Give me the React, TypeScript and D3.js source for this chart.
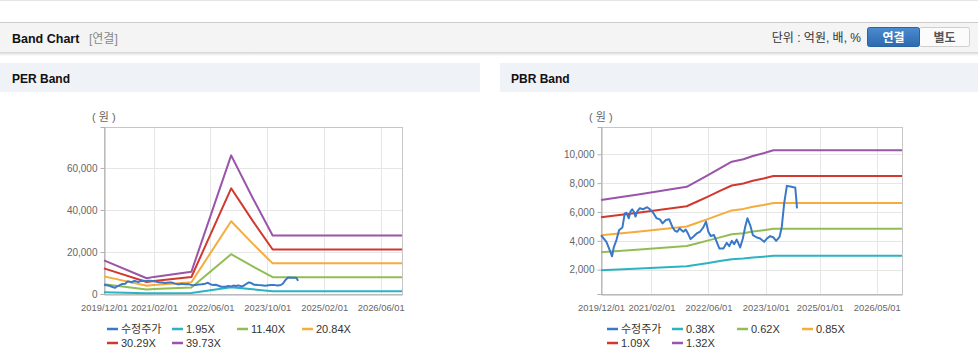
import { useEffect, useRef } from "react";
import * as d3 from "d3";

// 수정주가 - same price series is shown on both bands
const priceDates = [
  "2019-12-01", "2020-01-16", "2020-02-13", "2020-03-04", "2020-03-18", "2020-04-10", "2020-05-03",
  "2020-05-31", "2020-06-20", "2020-07-04", "2020-07-24", "2020-08-07", "2020-08-22", "2020-09-05",
  "2020-09-19", "2020-10-03", "2020-10-26", "2020-11-23", "2020-12-27", "2021-01-19", "2021-02-16",
  "2021-03-17", "2021-04-14", "2021-05-07", "2021-06-04", "2021-07-03", "2021-07-31", "2021-08-20",
  "2021-09-09", "2021-09-29", "2021-10-30", "2021-11-20", "2021-12-11", "2021-12-31", "2022-01-23",
  "2022-02-21", "2022-03-21", "2022-04-18", "2022-05-11", "2022-05-31", "2022-06-20", "2022-07-18",
  "2022-08-10", "2022-09-01", "2022-10-06", "2022-11-03", "2022-11-25", "2022-12-16", "2023-01-05",
  "2023-01-27", "2023-02-25", "2023-03-20", "2023-04-09", "2023-04-28", "2023-05-21", "2023-06-13",
  "2023-07-17", "2023-08-14", "2023-09-17", "2023-10-10", "2023-11-07", "2023-12-06", "2023-12-28",
  "2024-01-26", "2024-02-14", "2024-03-05", "2024-03-28", "2024-04-25", "2024-05-24", "2024-06-07",
  "2024-06-15", "2024-06-22",
];
const priceValues = [
  4400, 3930, 3350, 2930, 3540, 4050, 4750,
  4930, 5900, 5950, 5560, 6020, 6190, 6020,
  5680, 6020, 6260, 6190, 6330, 6190, 5950,
  5560, 5490, 5210, 5440, 5490, 4930, 4700,
  4630, 4860, 4630, 4790, 4470, 4120, 4280,
  4510, 4630, 4930, 5330, 4630, 4330, 4400,
  3930, 3470, 3470, 3860, 3630, 4000, 3770,
  4090, 3540, 4160, 4980, 5560, 5090, 4400,
  4230, 4160, 3930, 4160, 4330, 4230, 4000,
  4280, 4980, 6600, 7810, 7770, 7720, 7700,
  7000, 6250,
];

// PER band: EPS base, multiples from the legend
const perDates = ["2019-12-01", "2020-12-01", "2021-02-01", "2021-12-20", "2022-11-26", "2023-05-30", "2023-11-17", "2026-12-01"];
const perEps = [403, 189, 205, 267, 1661, 1150, 700, 700];
const perMultiples = [1.95, 11.40, 20.84, 30.29, 39.73];

// PBR band: BPS base
const pbrDates = [
  "2019-12-01", "2020-10-26", "2021-11-28", "2022-02-21", "2022-06-01", "2022-09-06",
  "2022-12-16", "2023-03-25", "2023-06-13", "2023-09-11", "2023-12-05", "2026-12-01",
];
const pbrBps = [5170, 5475, 5870, 6157, 6500, 6841, 7187, 7311, 7485, 7629, 7790, 7790];
const pbrMultiples = [0.38, 0.62, 0.85, 1.09, 1.32];

const perXTicks = ["2019/12/01", "2021/02/01", "2022/06/01", "2023/10/01", "2025/02/01", "2026/06/01"];
const pbrXTicks = ["2019/12/01", "2021/02/01", "2022/06/01", "2023/10/01", "2025/01/01", "2026/05/01"];
const perYTicks = [0, 20000, 40000, 60000];
const pbrYTicks = [2000, 4000, 6000, 8000, 10000];

const priceName = "수정주가";
const priceColor = "#3a78c8";
const bandColors = ["#2bb3c4", "#92bd55", "#f4ac3d", "#d1392f", "#9955a8"];

const FONT = "'Liberation Sans', Arial, 'Noto Sans CJK KR', sans-serif";

const parseDay = d3.utcParse("%Y-%m-%d");
const parseTick = d3.utcParse("%Y/%m/%d");

function drawBand(svg, o)
{
  const x = d3.scaleUtc()
    .domain([parseDay("2019-12-01"), parseDay("2026-12-01")])
    .range([o.left, o.right]);
  const y = d3.scaleLinear().domain(o.yDomain).range([o.bottom, o.top]);

  const g = svg.append("g");

  // grid
  g.selectAll(".vgrid").data(o.xTicks).join("line")
    .attr("x1", (d) => Math.round(x(parseTick(d))) + 0.5)
    .attr("x2", (d) => Math.round(x(parseTick(d))) + 0.5)
    .attr("y1", o.top).attr("y2", o.bottom)
    .attr("stroke", "#e6e6e6");
  g.selectAll(".hgrid").data(o.yTicks).join("line")
    .attr("x1", o.left).attr("x2", o.right)
    .attr("y1", (d) => Math.round(y(d)) + 0.5)
    .attr("y2", (d) => Math.round(y(d)) + 0.5)
    .attr("stroke", "#e6e6e6");

  // frame
  g.append("rect")
    .attr("x", o.left + 0.5).attr("y", o.top + 0.5)
    .attr("width", o.right - o.left).attr("height", o.bottom - o.top)
    .attr("fill", "none").attr("stroke", "#c6c6c6");

  // y axis
  const yAxis = g.append("g")
    .attr("transform", `translate(${o.left + 0.5},0)`)
    .call(d3.axisLeft(y).tickValues(o.yTicks).tickSize(4).tickFormat(d3.format(",")));
  yAxis.select(".domain").attr("stroke", "#b0b0b0");
  yAxis.selectAll(".tick line").attr("stroke", "#b0b0b0");
  yAxis.selectAll("text").attr("font-family", FONT).attr("font-size", 10).attr("fill", "#666").attr("x", -7);

  // x axis
  const xAxis = g.append("g")
    .attr("transform", `translate(0,${o.bottom + 0.5})`)
    .call(d3.axisBottom(x).tickValues(o.xTicks.map((d) => parseTick(d))).tickSize(0).tickFormat(d3.utcFormat("%Y/%m/%d")));
  xAxis.select(".domain").attr("stroke", "#b0b0b0");
  xAxis.selectAll("text").attr("font-family", FONT).attr("font-size", 9.4).attr("fill", "#666").attr("dy", 0).attr("y", 16);

  g.append("text")
    .attr("x", o.left - 12).attr("y", o.top - 6)
    .attr("font-family", FONT).attr("font-size", 11).attr("fill", "#666")
    .text("( 원 )");

  const line = d3.line().x((d) => x(d[0])).y((d) => y(d[1]));

  // bands = base value x multiple
  o.multiples.forEach((m, i) =>
  {
    const pts = o.bandDates.map((d, j) => [parseDay(d), o.base[j] * m]);
    g.append("path").datum(pts)
      .attr("fill", "none").attr("stroke", bandColors[i]).attr("stroke-width", 2)
      .attr("stroke-linejoin", "round")
      .attr("d", line);
  });

  const pricePts = priceDates.map((d, j) => [parseDay(d), priceValues[j]]);
  g.append("path").datum(pricePts)
    .attr("fill", "none").attr("stroke", priceColor).attr("stroke-width", 2)
    .attr("stroke-linejoin", "round")
    .attr("d", line);

  // legend, 4 per row
  const names = [priceName, ...o.multiples.map((m) => m.toFixed(2) + "X")];
  const colors = [priceColor, ...bandColors];
  names.forEach((n, i) =>
  {
    const lx = o.legendX + (i % 4) * 65;
    const ly = 329 + Math.floor(i / 4) * 14;
    g.append("line")
      .attr("x1", lx).attr("x2", lx + 11)
      .attr("y1", ly).attr("y2", ly)
      .attr("stroke", colors[i]).attr("stroke-width", 2.5);
    g.append("text")
      .attr("x", lx + 14).attr("y", ly + 4)
      .attr("font-family", FONT).attr("font-size", 11).attr("fill", "#333")
      .text(n);
  });
}

export default function App()
{
  const ref = useRef(null);

  useEffect(() =>
  {
    const svg = d3.select(ref.current);
    svg.selectAll("*").remove();

    const defs = svg.append("defs");
    const sh = defs.append("linearGradient").attr("id", "hdrShadow").attr("x1", 0).attr("x2", 0).attr("y1", 0).attr("y2", 1);
    sh.append("stop").attr("offset", 0).attr("stop-color", "#d4d4d4");
    sh.append("stop").attr("offset", 1).attr("stop-color", "#ffffff");
    const btn = defs.append("linearGradient").attr("id", "btnBlue").attr("x1", 0).attr("x2", 0).attr("y1", 0).attr("y2", 1);
    btn.append("stop").attr("offset", 0).attr("stop-color", "#4b8bd0");
    btn.append("stop").attr("offset", 1).attr("stop-color", "#2d69ad");

    // top rule
    svg.append("rect").attr("x", 0).attr("y", 0).attr("width", 978).attr("height", 1).attr("fill", "#e6e6e6");

    // header bar
    svg.append("rect").attr("x", 0).attr("y", 22).attr("width", 978).attr("height", 30).attr("fill", "#f4f4f4");
    svg.append("rect").attr("x", 0).attr("y", 22).attr("width", 978).attr("height", 1).attr("fill", "#cccccc");
    svg.append("rect").attr("x", 0).attr("y", 52).attr("width", 978).attr("height", 4).attr("fill", "url(#hdrShadow)");

    svg.append("text").attr("x", 12).attr("y", 43)
      .attr("font-family", FONT).attr("font-size", 12.5).attr("font-weight", "bold").attr("fill", "#111")
      .text("Band Chart");
    svg.append("text").attr("x", 89).attr("y", 43)
      .attr("font-family", FONT).attr("font-size", 12).attr("fill", "#888")
      .text("[연결]");

    svg.append("text").attr("x", 861).attr("y", 42).attr("text-anchor", "end")
      .attr("font-family", FONT).attr("font-size", 12).attr("fill", "#333")
      .text("단위 : 억원, 배, %");

    svg.append("rect").attr("x", 919.5).attr("y", 27.5).attr("width", 50).attr("height", 19).attr("rx", 2)
      .attr("fill", "#fbfbfb").attr("stroke", "#cfcfcf");
    svg.append("rect").attr("x", 867.5).attr("y", 27.5).attr("width", 52).attr("height", 19).attr("rx", 2)
      .attr("fill", "url(#btnBlue)").attr("stroke", "#2a62a2");
    svg.append("text").attr("x", 893.5).attr("y", 41.5).attr("text-anchor", "middle")
      .attr("font-family", FONT).attr("font-size", 12).attr("font-weight", "bold").attr("fill", "#fff")
      .text("연결");
    svg.append("text").attr("x", 944.5).attr("y", 41.5).attr("text-anchor", "middle")
      .attr("font-family", FONT).attr("font-size", 12).attr("font-weight", "bold").attr("fill", "#555")
      .text("별도");

    // panel titles
    svg.append("rect").attr("x", 0).attr("y", 63).attr("width", 480).attr("height", 29).attr("fill", "#eff2f6");
    svg.append("rect").attr("x", 500).attr("y", 63).attr("width", 478).attr("height", 29).attr("fill", "#eff2f6");
    svg.append("text").attr("x", 12).attr("y", 83)
      .attr("font-family", FONT).attr("font-size", 12).attr("font-weight", "bold").attr("fill", "#111")
      .text("PER Band");
    svg.append("text").attr("x", 511).attr("y", 83)
      .attr("font-family", FONT).attr("font-size", 12).attr("font-weight", "bold").attr("fill", "#111")
      .text("PBR Band");

    drawBand(svg, {
      left: 104, right: 402, top: 127, bottom: 294,
      yDomain: [0, 79500], yTicks: perYTicks, xTicks: perXTicks,
      bandDates: perDates, base: perEps, multiples: perMultiples, legendX: 107,
    });
    drawBand(svg, {
      left: 601, right: 902, top: 127, bottom: 294,
      yDomain: [315, 11890], yTicks: pbrYTicks, xTicks: pbrXTicks,
      bandDates: pbrDates, base: pbrBps, multiples: pbrMultiples, legendX: 607,
    });
  }, []);

  return (
    <svg ref={ref} width={978} height={361} style={{ position: "absolute", left: 0, top: 0, background: "#fff" }} />
  );
}
